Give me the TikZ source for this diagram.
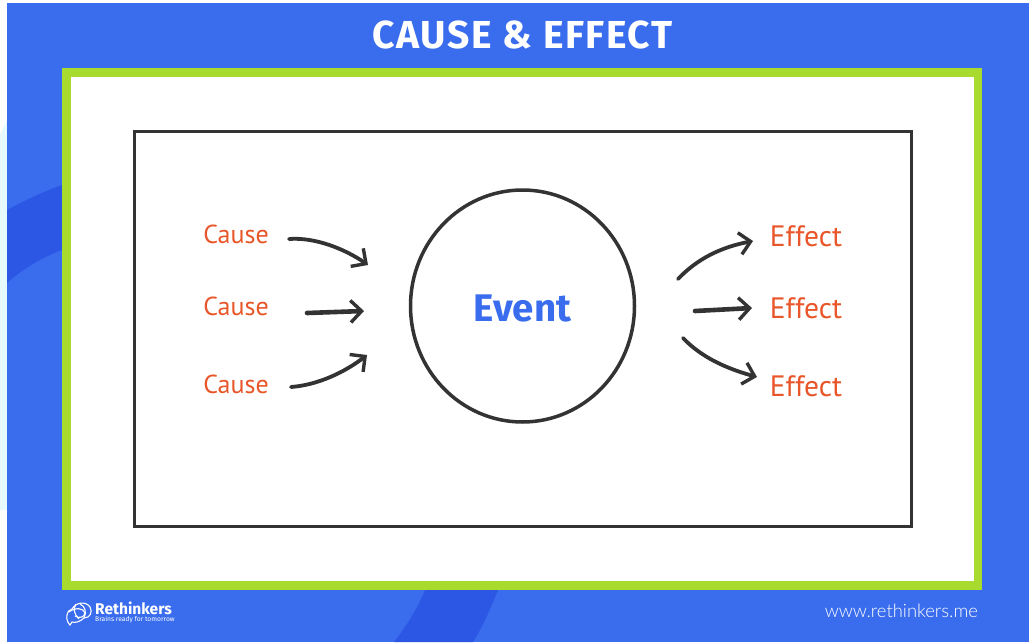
\documentclass[tikz,border=0pt]{standalone}
\usepackage{fontspec}
\setmainfont{Fira Sans}
\newfontfamily\thinfont{Lato Light}
\newfontfamily\handfont{PT Sans}
\usetikzlibrary{arrows.meta,shapes.geometric}
\definecolor{bgblue}{HTML}{3A6DEE}
\definecolor{bandblue}{HTML}{2C57E4}
\definecolor{framegreen}{HTML}{A9DB2E}
\definecolor{inkdark}{HTML}{333333}
\definecolor{causeorange}{HTML}{E8562A}
\definecolor{palecyan}{HTML}{E6F9FD}
\tikzset{
  hand/.style={text=causeorange,inner sep=0pt,anchor=center},
  causetext/.style={hand,font=\handfont\fontsize{26}{26}\selectfont},
  effecttext/.style={hand,font=\handfont\fontsize{29.5}{29.5}\selectfont},
  flow/.style={draw=inkdark,line width=3.8pt,line cap=round,-{Straight Barb[length=11pt,width=22pt,line width=3.4pt]}},
  flowstraight/.style={flow,line width=4.6pt},
}
\begin{document}
\begin{tikzpicture}[x=1pt,y=-1pt]
\useasboundingbox (0,0) rectangle (1029,643);
\fill[white] (0,0) rectangle (1029,643);
\fill[palecyan] (0,135) -- (7,120) -- (7,510) -- (0,510) -- cycle;
\fill[bgblue] (7,3) rectangle (1029,642);
\fill[bandblue] (7,210) .. controls (25,200) and (45,191) .. (62,185) -- (62,250) .. controls (40,258) and (22,270) .. (7,283) -- cycle;
\fill[bandblue] (425,590) -- (498,590) .. controls (490,610) and (482,628) .. (473,642) -- (394,642) .. controls (405,628) and (417,610) .. (425,590) -- cycle;
\node (title) at (522.5,35) {\fontsize{39}{39}\selectfont\bfseries\addfontfeature{LetterSpace=4}\color{white}CAUSE \& EFFECT};
\draw[framegreen,line width=8.5pt,fill=white] (66.5,72.5) rectangle (978,585.5);
\draw[inkdark,line width=3pt] (134.5,131.5) rectangle (911,526);
\node[draw=inkdark,line width=3.5pt,ellipse,minimum width=224pt,minimum height=232pt,inner sep=0pt] (event) at (522.5,306) {};
\node[text=bgblue,font=\fontsize{38.5}{38.5}\selectfont\bfseries] (eventlabel) at (522.5,308) {Event};
\node[causetext] (c1) at (236,234) {Cause};
\node[causetext] (c2) at (236,306) {Cause};
\node[causetext] (c3) at (236,384) {Cause};
\node[effecttext] (e1) at (806,236) {Effect};
\node[effecttext] (e2) at (806,308) {Effect};
\node[effecttext] (e3) at (806,386) {Effect};
\coordinate (a1s) at (289,239); \coordinate (a1e) at (368,265);
\coordinate (a2s) at (307,313); \coordinate (a2e) at (364,311);
\coordinate (a3s) at (291,387); \coordinate (a3e) at (367,355);
\coordinate (b1s) at (678,279); \coordinate (b1e) at (753,241);
\coordinate (b2s) at (695,311); \coordinate (b2e) at (752,308);
\coordinate (b3s) at (683,338); \coordinate (b3e) at (757,377);
\draw[flow] (a1s) .. controls (315,237) and (345,249) .. (a1e);
\draw[flowstraight] (a2s) -- (a2e);
\draw[flow] (a3s) .. controls (318,385) and (345,372) .. (a3e);
\draw[flow] (b1s) .. controls (698,258) and (722,247) .. (b1e);
\draw[flowstraight] (b2s) -- (b2e);
\draw[flow] (b3s) .. controls (702,358) and (728,369) .. (b3e);
% logo
\begin{scope}[draw=white,line width=1.1pt]
\draw (72,609) .. controls (76,602) and (86,601) .. (90,607) .. controls (93,612) and (90,618) .. (84,618) .. controls (80,622) and (75,623) .. (72,622) -- (70,625) .. controls (68,623) and (66,619) .. (67,615) .. controls (67,612) and (69,610) .. (72,609) -- cycle;
\draw (76,604) .. controls (73,609) and (74,614) .. (79,619);
\draw (69,612) .. controls (75,607) and (84,608) .. (85,613) .. controls (85,617) and (79,619) .. (75,616);
\draw (80,604) .. controls (85,606) and (87,612) .. (84,618);
\end{scope}
\node[anchor=west,inner sep=0pt,text=white,font=\fontsize{15.5}{15.5}\selectfont\bfseries] (brand) at (95,608) {Rethinkers};
\node[anchor=west,inner sep=0pt,text=white,font=\fontsize{6.7}{7}\selectfont] (tag) at (95,620) {Brains ready for tomorrow};
\node[anchor=east,inner sep=0pt,text=white,font=\thinfont\fontsize{18.4}{18.4}\selectfont] (url) at (978,611) {www.rethinkers.me};
\end{tikzpicture}
\end{document}
